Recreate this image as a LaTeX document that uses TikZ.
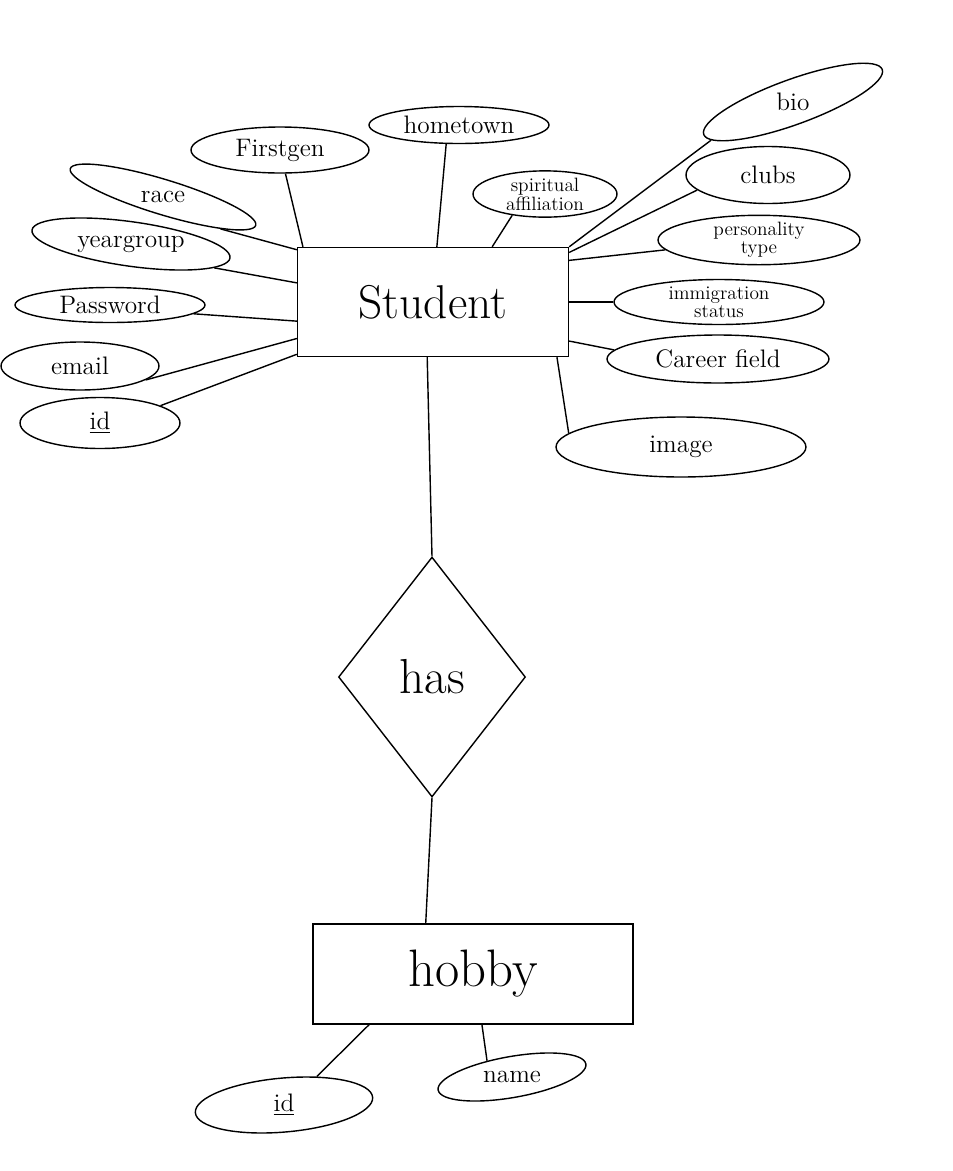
\documentclass[tikz,border=0pt]{standalone}
\usepackage{graphicx}
\usetikzlibrary{shapes.geometric}
\tikzset{
  entity/.style={draw, rectangle, line width=0.8pt, inner sep=0pt},
  attr/.style={draw, ellipse, line width=0.8pt, inner sep=0pt, font=\Large},
  twoline/.style={align=center, font=\fontsize{11}{9}\selectfont},
  relation/.style={draw, diamond, line width=0.8pt, inner sep=0pt},
  link/.style={line width=0.8pt}
}
\begin{document}
\begin{tikzpicture}[x=0.02cm, y=-0.02cm]
      \useasboundingbox (0,0) rectangle (953,1171);
      \draw
        (433,302) node[entity, minimum width=5.42cm, minimum height=2.18cm] (student){\fontsize{27}{30}\selectfont Student}
        (432,677) node[relation, minimum width=3.74cm, minimum height=4.8cm] (has){\fontsize{28}{30}\selectfont has}
        (473,974) node[entity, minimum width=6.4cm, minimum height=2cm] (hobby){\fontsize{30}{32}\selectfont hobby};
      \draw
        (280,150) node[attr, minimum width=3.56cm, minimum height=0.92cm] (firstgen){Firstgen}
        (459,125) node[attr, minimum width=3.6cm, minimum height=0.74cm] (hometown){hometown}
        (545,194) node[attr, twoline, minimum width=2.88cm, minimum height=0.88cm] (spiritual){spiritual\\affiliation}
        (163,197) node[attr, rotate=-17, minimum width=3.88cm, minimum height=0.7cm] (race){\rotatebox{17}{race}}
        (131,244) node[attr, rotate=-8, minimum width=4cm, minimum height=0.88cm] (yeargroup){\rotatebox{8}{yeargroup}}
        (110,305) node[attr, minimum width=3.8cm, minimum height=0.7cm] (password){Password}
        (80,366) node[attr, minimum width=3.16cm, minimum height=0.96cm] (email){email}
        (100,423) node[attr, minimum width=3.2cm, minimum height=1.02cm] (id){\underline{id}}
        (793,102) node[attr, rotate=20, minimum width=3.8cm, minimum height=0.9cm] (bio){\rotatebox{-20}{bio}}
        (768,175) node[attr, minimum width=3.28cm, minimum height=1.14cm] (clubs){clubs}
        (759,240) node[attr, twoline, minimum width=4.04cm, minimum height=0.98cm] (personality){personality\\type}
        (719,302) node[attr, twoline, minimum width=4.2cm, minimum height=0.9cm] (immigration){immigration\\status}
        (718,359) node[attr, minimum width=4.44cm, minimum height=0.96cm] (career){Career field}
        (681,447) node[attr, minimum width=5cm, minimum height=1.2cm] (image){image}
        (284,1105) node[attr, rotate=5, minimum width=3.56cm, minimum height=1.08cm] (hobbyid){\rotatebox{-5}{\underline{id}}}
        (512,1077) node[attr, rotate=10, minimum width=3cm, minimum height=0.82cm] (hobbyname){\rotatebox{-10}{name}};
      \begin{scope}[link]
        \draw (firstgen.-77) to (student.157);
        \draw (hometown.-124) to (student.86);
        \draw (spiritual.-147) to (student.43);
        \draw (bio.185) to (student.north east);
        \draw (clubs.192) to (student.20);
        \draw (personality.186) to (student.17);
        \draw (immigration.180) to (student.0);
        \draw (career.175) to (student.-16);
        \draw (image.173) to (student.-24);
        \draw (race.-12) to (student.159);
        \draw (yeargroup.-8) to (student.172);
        \draw (password.-6) to (student.188);
        \draw (email.-12) to (student.195);
        \draw (id.16) to (student.201);
        \draw (student.-96) to (has.north);
        \draw (has.south) to (hobby.133);
        \draw (hobbyid.36) to (hobby.206);
        \draw (hobbyname.137) to (hobby.-80);
      \end{scope}
    \end{tikzpicture}
\end{document}
